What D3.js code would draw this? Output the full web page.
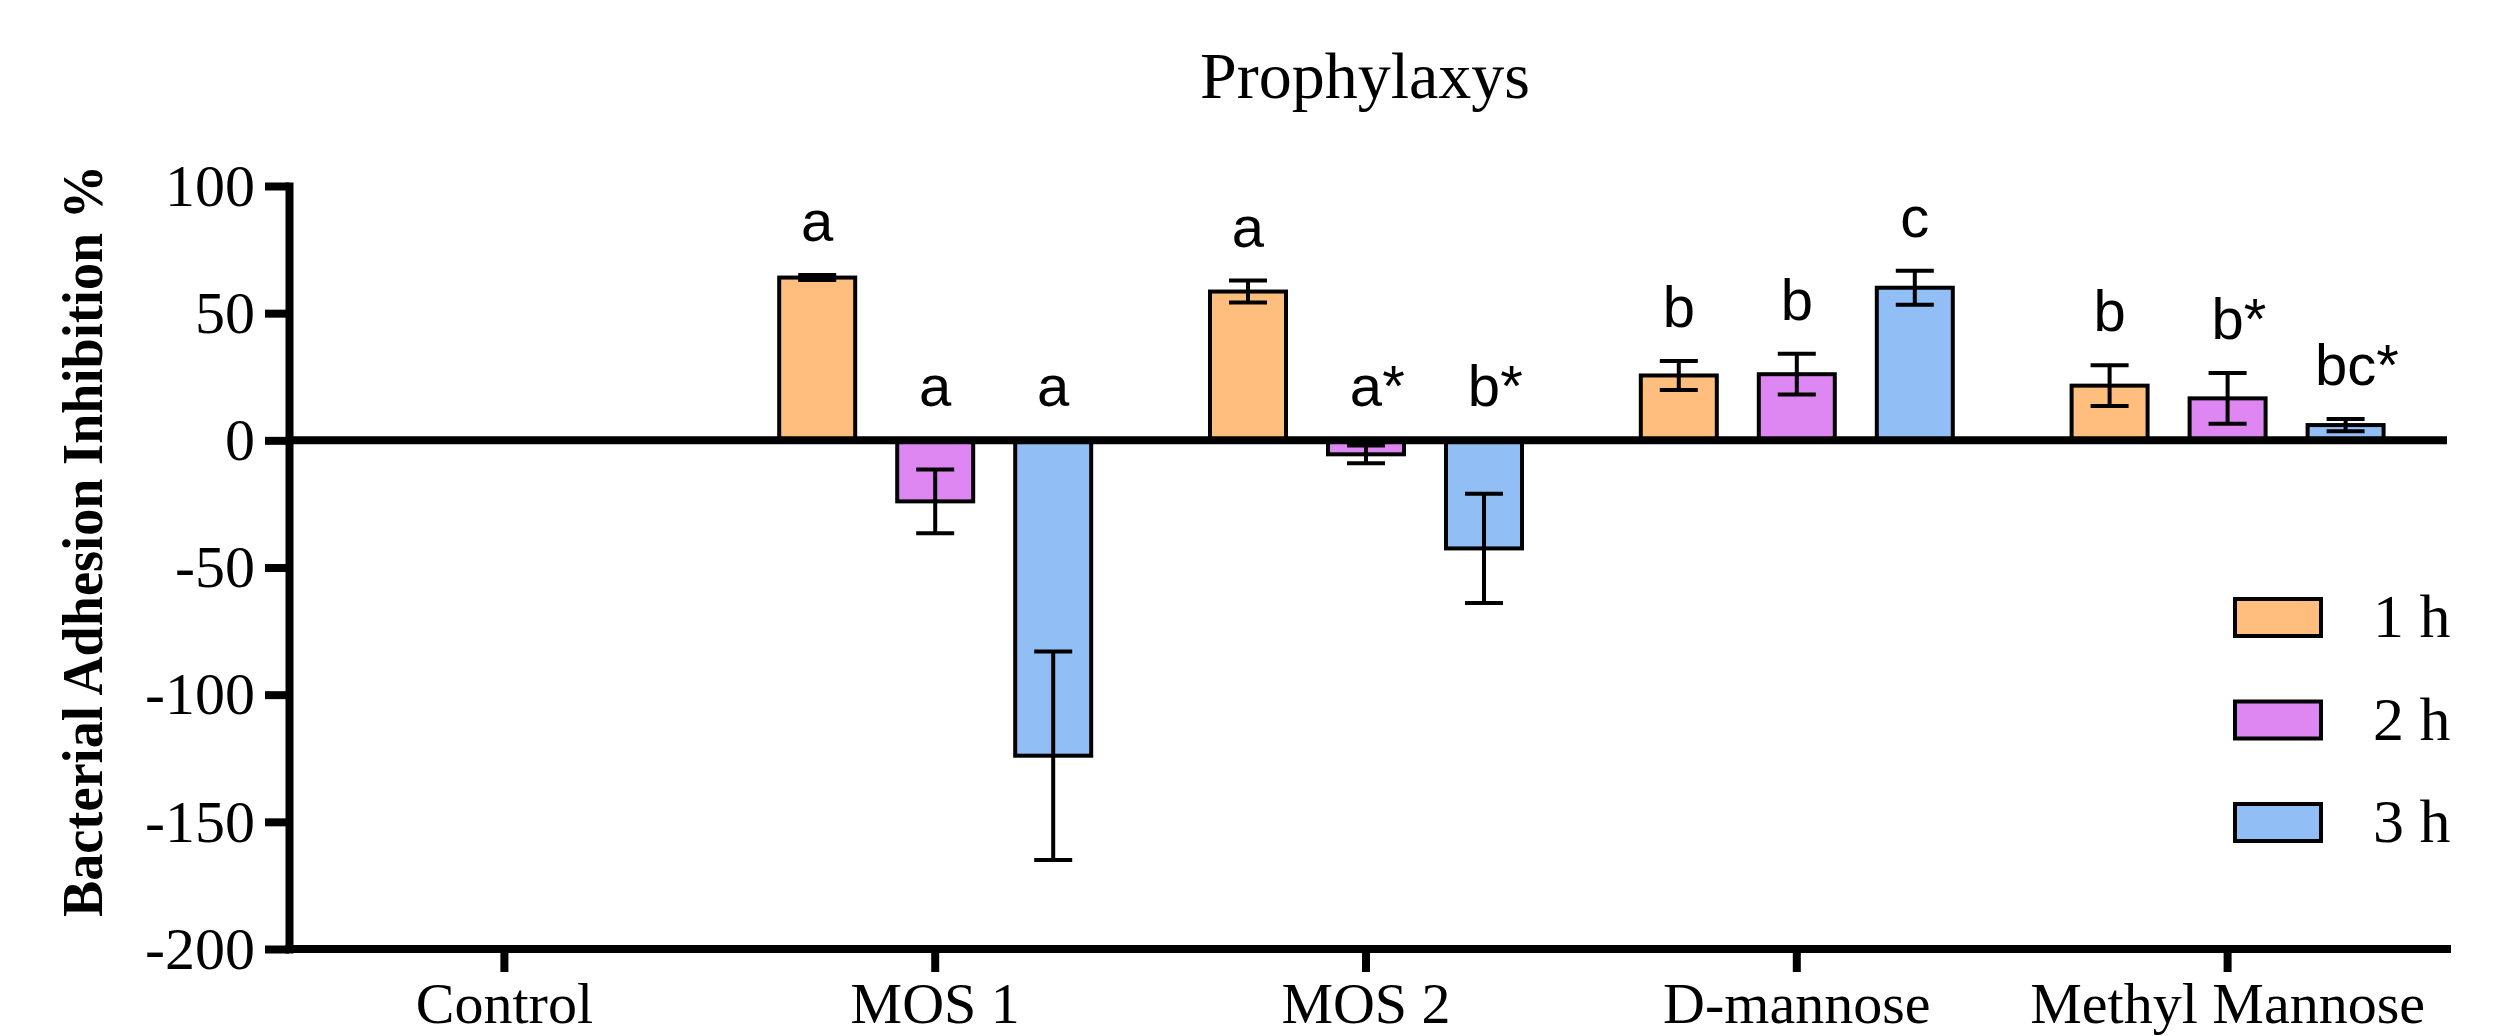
<!DOCTYPE html>
<html>
<head>
<meta charset="utf-8">
<script src="https://cdn.jsdelivr.net/npm/d3@7"></script>
<style>
    body { margin: 0; background: #fff; }
</style>
</head>
<body>
<div id="viz"></div>
<script>
const categories = ["Control", "MOS 1", "MOS 2", "D-mannose", "Methyl Mannose"];
const seriesNames = ["1 h", "2 h", "3 h"];

// mean values per category (Control has no bars)
const mean1h = [null, 64, 58.5, 25.5, 21.5];
const mean2h = [null, -24, -5.5, 26, 16.5];
const mean3h = [null, -124, -42.5, 60, 6];

const err1h = [null, 1, 4.3, 5.7, 8];
const err2h = [null, 12.5, 3.5, 8, 10];
const err3h = [null, 41, 21.5, 6.7, 2.4];

const letters1h = ["", "a", "a", "b", "b"];
const letters2h = ["", "a", "a*", "b", "b*"];
const letters3h = ["", "a", "b*", "c", "bc*"];

const yTicks = [100, 50, 0, -50, -100, -150, -200];
const colors = ["#FFBE7D", "#DE87F2", "#91BEF5"];

const width = 2498;
const height = 1036;

const svg = d3.select("#viz").append("svg")
    .attr("width", width)
    .attr("height", height)
    .style("font-family", "'Liberation Serif', 'Times New Roman', serif");

const x = d3.scaleBand()
    .domain(categories)
    .range([289, 2443])
    .padding(0);

const sub = d3.scaleBand()
    .domain(seriesNames)
    .range([-177, 177])
    .paddingInner(0.356)
    .paddingOuter(0.178);

const y = d3.scaleLinear()
    .domain([-200, 100])
    .range([949, 186]);

const means = [mean1h, mean2h, mean3h];
const errs = [err1h, err2h, err3h];
const letters = [letters1h, letters2h, letters3h];

const bars = [];
categories.forEach((c, i) => {
    seriesNames.forEach((s, j) => {
        if (means[j][i] === null) return;
        bars.push({ cat: c, series: s, idx: j, value: means[j][i], err: errs[j][i], letter: letters[j][i] });
    });
});

const cx = d => x(d.cat) + x.bandwidth() / 2 + sub(d.series) + sub.bandwidth() / 2;

// title
svg.append("text")
    .attr("x", 1365)
    .attr("y", 98)
    .attr("text-anchor", "middle")
    .style("font-size", "66px")
    .text("Prophylaxys");

// y axis label
svg.append("text")
    .attr("transform", "translate(102,541) rotate(-90)")
    .attr("text-anchor", "middle")
    .attr("textLength", 752)
    .attr("lengthAdjust", "spacingAndGlyphs")
    .style("font-size", "58px")
    .style("font-weight", "bold")
    .text("Bacterial Adhesion Inhibition %");

// bars
svg.append("g").selectAll("rect")
    .data(bars)
    .enter()
    .append("rect")
    .attr("x", d => x(d.cat) + x.bandwidth() / 2 + sub(d.series))
    .attr("y", d => y(Math.max(0, d.value)))
    .attr("width", sub.bandwidth())
    .attr("height", d => Math.abs(y(d.value) - y(0)))
    .attr("fill", d => colors[d.idx])
    .attr("stroke", "#000")
    .attr("stroke-width", 4);

// error bars
const eb = svg.append("g")
    .attr("stroke", "#000")
    .attr("stroke-width", 4);

eb.selectAll("line.v")
    .data(bars)
    .enter()
    .append("line")
    .attr("class", "v")
    .attr("x1", cx)
    .attr("x2", cx)
    .attr("y1", d => y(d.value - d.err))
    .attr("y2", d => y(d.value + d.err));

[1, -1].forEach(sign => {
    eb.selectAll("line.cap" + (sign > 0 ? "t" : "b"))
        .data(bars)
        .enter()
        .append("line")
        .attr("class", "cap" + (sign > 0 ? "t" : "b"))
        .attr("x1", d => cx(d) - 19)
        .attr("x2", d => cx(d) + 19)
        .attr("y1", d => y(d.value + sign * d.err))
        .attr("y2", d => y(d.value + sign * d.err));
});

// zero line
svg.append("line")
    .attr("x1", x.range()[0])
    .attr("x2", 2447)
    .attr("y1", y(0))
    .attr("y2", y(0))
    .attr("stroke", "#000")
    .attr("stroke-width", 8);

// significance letters
const lettersG = svg.append("g")
    .style("font-family", "'Liberation Sans', Arial, sans-serif")
    .style("font-size", "58px");

bars.forEach(d => {
    const base = d.letter.replace("*", "");
    const ly = y(Math.max(0, d.value + d.err)) - 34;
    const t = lettersG.append("text")
        .attr("x", cx(d))
        .attr("y", ly)
        .attr("text-anchor", "middle")
        .text(base);
    if (d.letter.includes("*")) {
        const w = t.node().getComputedTextLength();
        lettersG.append("text")
            .attr("x", cx(d) + w / 2)
            .attr("y", ly)
            .text("*");
    }
});

// axes
const yAxis = svg.append("g")
    .attr("transform", "translate(289,0)")
    .call(d3.axisLeft(y).tickValues(yTicks).tickFormat(d => String(d))
        .tickSize(24).tickPadding(10).tickSizeOuter(0));

const xAxis = svg.append("g")
    .attr("transform", "translate(0,949)")
    .call(d3.axisBottom(x).tickSize(23).tickPadding(10).tickSizeOuter(0));

[yAxis, xAxis].forEach(g => {
    g.select(".domain")
        .attr("stroke-width", 8)
        .attr("stroke-linecap", "square");
    g.selectAll(".tick line")
        .attr("stroke-width", 8);
    g.selectAll(".tick text")
        .style("font-family", "'Liberation Serif', 'Times New Roman', serif")
        .style("font-size", "60px")
        .attr("fill", "#000");
});

xAxis.selectAll(".tick text").style("font-size", "58px");
xAxis.select(".domain").attr("d", "M289,0H2447");

// legend
const legend = svg.append("g")
    .selectAll("g")
    .data(seriesNames)
    .enter()
    .append("g")
    .attr("transform", (d, i) => `translate(2235,${599 + i * 102.5})`);

legend.append("rect")
    .attr("width", 86)
    .attr("height", 37)
    .attr("fill", (d, i) => colors[i])
    .attr("stroke", "#000")
    .attr("stroke-width", 4);

legend.append("text")
    .attr("x", 138)
    .attr("y", 38)
    .style("font-size", "62px")
    .text(d => d);
</script>
</body>
</html>
